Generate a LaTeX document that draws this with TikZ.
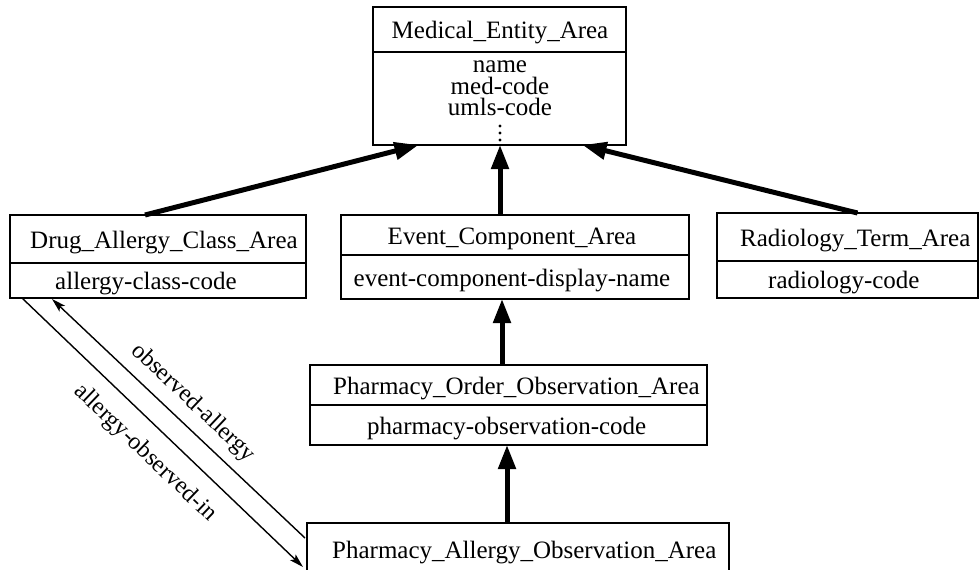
\documentclass[tikz,border=0pt]{standalone}
\usepackage{fontspec}
\setmainfont{Liberation Serif}
\usetikzlibrary{arrows.meta,calc}
\begin{document}
\begin{tikzpicture}[x=1pt,y=-1pt,
  box/.style={draw, line width=1.4pt, anchor=north west, inner sep=0pt, outer sep=0pt},
  ttl/.style={font=\fontsize{25}{30}\selectfont, inner sep=0pt, anchor=base},
  ttlw/.style={ttl, anchor=base west},
  inh/.style={line width=5pt, -{Triangle[length=24pt,width=17pt]}},
  rel/.style={line width=1.4pt, -{Stealth[length=14pt,width=8pt,inset=3pt]}},
  lbl/.style={font=\fontsize{24}{28}\selectfont, inner sep=0pt},
]
\path[use as bounding box] (0,0) rectangle (980,570);
\clip (0,0) rectangle (980,570);

% boxes
\node[box, minimum width=253pt, minimum height=45pt] (Mh) at (373,7) {};
\node[box, minimum width=253pt, minimum height=93pt] (Mb) at (373,52) {};
\node[box, minimum width=296pt, minimum height=48pt] (Dh) at (10,215) {};
\node[box, minimum width=296pt, minimum height=35pt] (Db) at (10,263) {};
\node[box, minimum width=348pt, minimum height=40pt] (Eh) at (341,215) {};
\node[box, minimum width=348pt, minimum height=44pt] (Eb) at (341,255) {};
\node[box, minimum width=261pt, minimum height=48pt] (Rh) at (717,213) {};
\node[box, minimum width=261pt, minimum height=37pt] (Rb) at (717,261) {};
\node[box, minimum width=397pt, minimum height=40pt] (POh) at (310,365) {};
\node[box, minimum width=397pt, minimum height=40pt] (POb) at (310,405) {};
\node[box, minimum width=422pt, minimum height=80pt] (PAh) at (307,523) {};

% texts
\node[ttl] (Mt) at (500,38) {Medical\_Entity\_Area};
\node[ttl] (Ma1) at (500,72) {name};
\node[ttl] (Ma2) at (500,94) {med-code};
\node[ttl] (Ma3) at (500,115) {umls-code};
\fill (500,126) circle (1.6pt) (500,133) circle (1.6pt) (500,140) circle (1.6pt);

\node[ttlw] (Dt) at (30,248) {Drug\_Allergy\_Class\_Area};
\node[ttlw] (Da) at (55,289) {allergy-class-code};
\node[ttl] (Et) at (512,244) {Event\_Component\_Area};
\node[ttl] (Ea) at (512,286) {event-component-display-name};
\node[ttlw] (Rt) at (740,246) {Radiology\_Term\_Area};
\node[ttlw] (Ra) at (768,288) {radiology-code};
\node[ttlw] (POt) at (333,394) {Pharmacy\_Order\_Observation\_Area};
\node[ttlw] (POa) at (367,434) {pharmacy-observation-code};
\node[ttlw] (PAt) at (332,558) {Pharmacy\_Allergy\_Observation\_Area};

% inheritance arrows
\draw[inh] ([xshift=-13pt]Dh.north) -- ([xshift=-81pt]Mb.south);
\draw[inh] ([xshift=-15pt]Eh.north) -- ([xshift=0.5pt]Mb.south);
\draw[inh] ([xshift=10pt]Rh.north) -- ([xshift=83pt]Mb.south);
\draw[inh] ([xshift=-6.5pt]POh.north) -- ([xshift=-13pt]Eb.south);
\draw[inh] ([xshift=-11pt]PAh.north) -- ([xshift=-1.5pt]POb.south);

% relations
\draw[rel] ($(Db.south west)+(12,0)$) -- ($(PAh.north west)+(-4,44)$);
\draw[rel] ($(PAh.north west)+(-2,15)$) -- ($(Db.south west)+(42,1)$);
\node[lbl, rotate=-43.3] (L1) at (193,403) {observed-allergy};
\node[lbl, rotate=-43.8] (L2) at (145,453) {allergy-observed-in};
\end{tikzpicture}
\end{document}
